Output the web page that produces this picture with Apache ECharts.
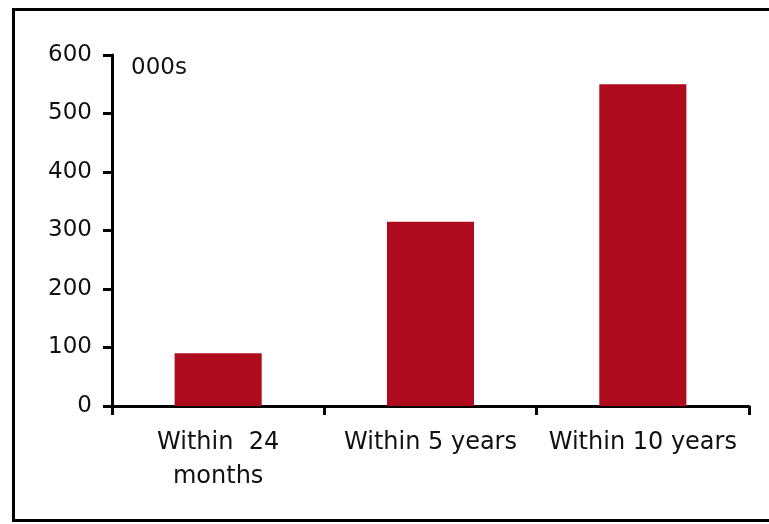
<!DOCTYPE html>
<html><head><meta charset="utf-8">
<script src="https://cdn.jsdelivr.net/npm/echarts@6/dist/echarts.min.js"></script>
<style>html,body{margin:0;padding:0;background:#fff}#c{width:769px;height:524px}</style>
</head><body><div id="c"></div>
<script>
var categories = ['Within  24\nmonths', 'Within 5 years', 'Within 10 years'];
var values = [90, 315, 550];
var yTicks = [0, 100, 200, 300, 400, 500, 600];
var unitLabel = '000s';

var chart = echarts.init(document.getElementById('c'), null, {renderer: 'canvas'});
var font = 'DejaVu Sans';
chart.setOption({
  animation: false,
  backgroundColor: '#fff',
  graphic: [
    {type: 'rect', shape: {x: 13.5, y: 9.5, width: 800, height: 511}, style: {fill: 'none', stroke: '#000', lineWidth: 3}},
    {type: 'text', left: 131, top: 57, style: {text: unitLabel, font: '23px "DejaVu Sans"', fill: '#111'}}
  ],
  grid: {left: 112, right: 20, top: 55, bottom: 118},
  xAxis: {
    type: 'category',
    data: categories,
    boundaryGap: true,
    axisLine: {lineStyle: {color: '#000', width: 3}},
    axisTick: {show: true, length: 9, inside: false, lineStyle: {color: '#000', width: 3}, alignWithLabel: false},
    axisLabel: {color: '#111', fontFamily: font, fontSize: 24, margin: 20, lineHeight: 34, interval: 0}
  },
  yAxis: {
    type: 'value',
    min: yTicks[0], max: yTicks[yTicks.length - 1], interval: 100,
    splitLine: {show: false},
    axisLine: {show: true, lineStyle: {color: '#000', width: 3}},
    axisTick: {show: true, length: 9, lineStyle: {color: '#000', width: 3}},
    axisLabel: {color: '#111', fontFamily: font, fontSize: 23, margin: 20}
  },
  series: [{
    type: 'bar',
    data: values,
    barWidth: '41%',
    itemStyle: {color: '#AE0C1E'}
  }]
});
</script></body></html>
